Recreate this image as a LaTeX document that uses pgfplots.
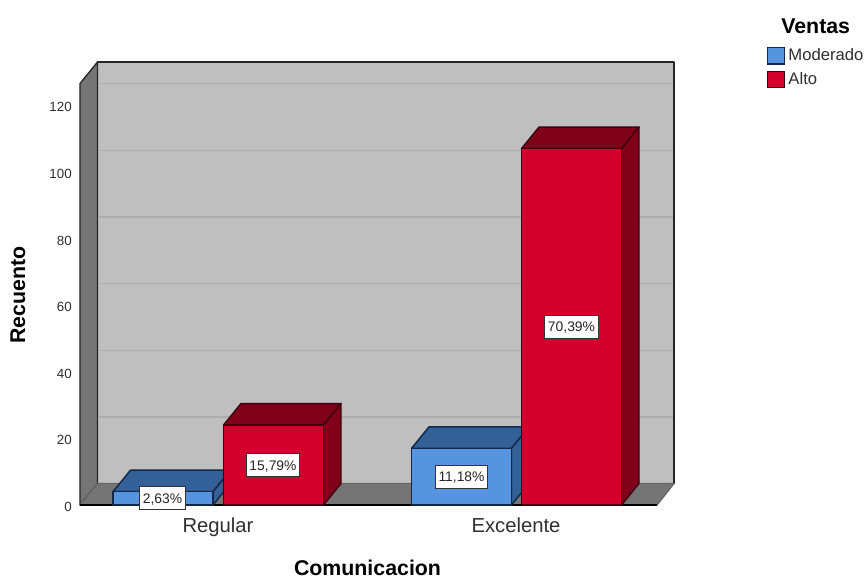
\documentclass[border=0pt]{standalone}
\usepackage{pgfplots}
\pgfplotsset{compat=1.18}
\usepackage{fontspec}
\setmainfont{Liberation Sans}
\definecolor{wall}{HTML}{BFBFBF}
\definecolor{floorc}{HTML}{757575}
\definecolor{gridc}{HTML}{AEAEAE}
\definecolor{bluef}{HTML}{5794E0}
\definecolor{bluet}{HTML}{336096}
\definecolor{bluee}{HTML}{14294A}
\definecolor{redf}{HTML}{D3002D}
\definecolor{redt}{HTML}{7F0018}
\definecolor{rede}{HTML}{3F0010}
\definecolor{txt}{HTML}{303030}
\tikzset{
  pct/.style={draw=black!80,fill=white,line width=0.8pt,font=\fontsize{10.4}{12}\selectfont,
    text=black!85,inner xsep=2.3pt,inner ysep=4.9pt,text height=7.6pt,text depth=0pt,anchor=center},
  wallface/.style={draw=black!85,line width=1pt,line join=round},
  barface/.style={line width=1.1pt,line join=round},
}
\begin{document}
\begin{tikzpicture}
\path[use as bounding box,fill=white] (-60pt,-54.75pt) rectangle (589.5pt,378.75pt);
\begin{axis}[
  at={(0,0)},anchor=origin,
  scale only axis,width=445.5pt,height=332.25pt,
  xmin=80,xmax=674,ymin=0,ymax=133,
  clip=false,
  axis line style={draw=none},
  tick style={draw=none},
  ytick={0,20,40,60,80,100,120},
  xtick={218,516},
  xticklabels={Regular,Excelente},
  yticklabel style={font=\fontsize{10}{12}\selectfont,text=txt,xshift=-6pt,yshift=-1.5pt},
  xticklabel style={font=\fontsize{15.2}{18}\selectfont,text=txt,yshift=-9.5pt},
  /pgf/number format/assume math mode=true,
  tick label style={inner sep=0pt},
  ylabel={Recuento},
  xlabel={Comunicacion},
  ylabel style={at={(axis cs:18,63)},anchor=center,inner sep=0pt,font=\bfseries\fontsize{16}{18}\selectfont},
  xlabel style={at={(axis cs:367.5,-18.8)},anchor=center,inner sep=0pt,font=\bfseries\fontsize{16}{18}\selectfont},
  legend style={at={(axis cs:767,137.6)},anchor=north west,draw=none,fill=none,
    font=\fontsize{12.5}{15}\selectfont,inner sep=0pt,row sep=4.4pt,text=txt,
    nodes={inner xsep=2.5pt,inner ysep=0.6pt}},
  legend cell align=left,
  legend image code/.code={\draw[#1] (0pt,-6.2pt) rectangle (12.5pt,6.2pt);},
]
% chart walls and floor
\addplot[wallface,fill=wall,forget plot] coordinates {(97.5,6.46)(674,6.46)(674,133)(97.5,133)} -- cycle;
\addplot[wallface,fill=floorc,forget plot] coordinates {(80,0)(97.5,6.46)(97.5,133)(80,126.54)} -- cycle;
\addplot[wallface,fill=floorc,forget plot,draw=black!60] coordinates {(80,0)(657,0)(674,6.46)(97.5,6.46)} -- cycle;
% gridlines on the back wall
\addplot[gridc,line width=1pt,forget plot] coordinates {(98,26.46)(673,26.46)};
\addplot[gridc,line width=1pt,forget plot] coordinates {(98,46.46)(673,46.46)};
\addplot[gridc,line width=1pt,forget plot] coordinates {(98,66.46)(673,66.46)};
\addplot[gridc,line width=1pt,forget plot] coordinates {(98,86.46)(673,86.46)};
\addplot[gridc,line width=1pt,forget plot] coordinates {(98,106.46)(673,106.46)};
\addplot[gridc,line width=1pt,forget plot] coordinates {(98,126.46)(673,126.46)};
\addplot[black,line width=1.4pt,forget plot] coordinates {(80,0)(657,0)};
% Regular, Moderado: 4
\addplot[forget plot,barface,fill=bluet,draw=bluee] coordinates {(113,4)(130.5,10.46)(230.5,10.46)(213,4)} -- cycle;
\addplot[forget plot,barface,fill=bluet,draw=bluee] coordinates {(213,0)(230.5,6.46)(230.5,10.46)(213,4)} -- cycle;
\addplot[forget plot,barface,fill=bluef,draw=bluee] coordinates {(113,0)(213,0)(213,4)(113,4)} -- cycle;
% Regular, Alto: 24
\addplot[forget plot,barface,fill=redt,draw=rede] coordinates {(223.5,24)(241,30.46)(341,30.46)(323.5,24)} -- cycle;
\addplot[forget plot,barface,fill=redt,draw=rede] coordinates {(323.5,0)(341,6.46)(341,30.46)(323.5,24)} -- cycle;
\addplot[forget plot,barface,fill=redf,draw=rede] coordinates {(223.5,0)(323.5,0)(323.5,24)(223.5,24)} -- cycle;
% Excelente, Moderado: 17
\addplot[forget plot,barface,fill=bluet,draw=bluee] coordinates {(411.5,17)(429,23.46)(529,23.46)(511.5,17)} -- cycle;
\addplot[forget plot,barface,fill=bluet,draw=bluee] coordinates {(511.5,0)(529,6.46)(529,23.46)(511.5,17)} -- cycle;
\addplot[forget plot,barface,fill=bluef,draw=bluee] coordinates {(411.5,0)(511.5,0)(511.5,17)(411.5,17)} -- cycle;
% Excelente, Alto: 107
\addplot[forget plot,barface,fill=redt,draw=rede] coordinates {(521.5,107)(539,113.46)(639,113.46)(621.5,107)} -- cycle;
\addplot[forget plot,barface,fill=redt,draw=rede] coordinates {(621.5,0)(639,6.46)(639,113.46)(621.5,107)} -- cycle;
\addplot[forget plot,barface,fill=redf,draw=rede] coordinates {(521.5,0)(621.5,0)(621.5,107)(521.5,107)} -- cycle;
% percentage labels
\node[pct] at (axis cs:162.5,2) {2,63\%};
\node[pct] at (axis cs:273,12) {15,79\%};
\node[pct] at (axis cs:461.5,8.5) {11,18\%};
\node[pct] at (axis cs:571.5,53.5) {70,39\%};
% legend
\node[font=\bfseries\fontsize{16}{18}\selectfont,anchor=center,inner sep=0pt] at (axis cs:815.7,143.8) {Ventas};
\addlegendimage{fill=bluef,draw=bluee,line width=0.9pt}
\addlegendentry{Moderado}
\addlegendimage{fill=redf,draw=rede,line width=0.9pt}
\addlegendentry{Alto}
\end{axis}
\end{tikzpicture}
\end{document}
